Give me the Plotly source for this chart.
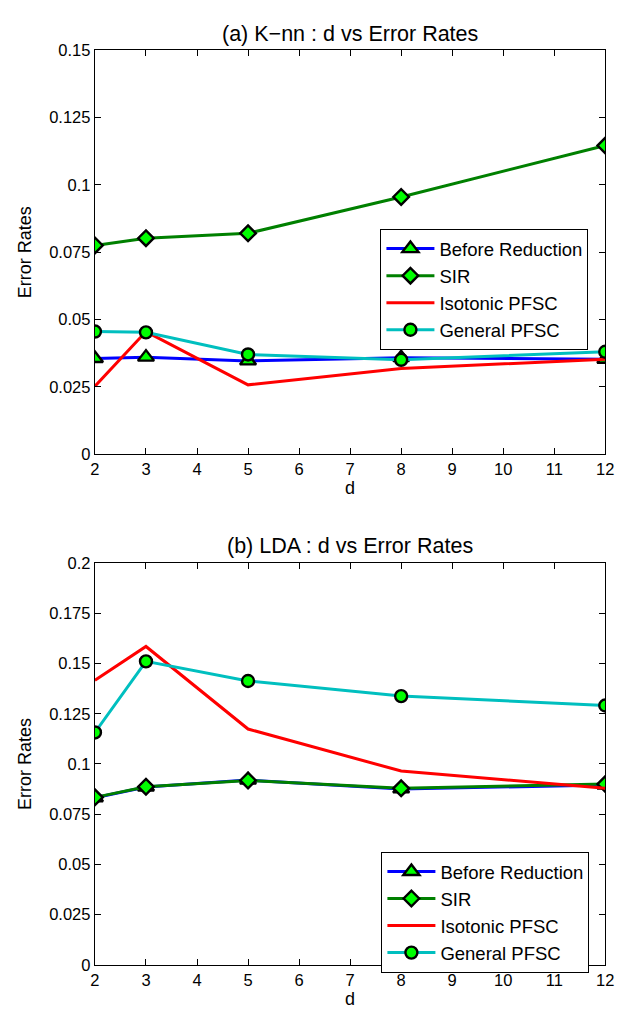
import plotly.graph_objects as go

d_values = [2, 3, 5, 8, 12]

knn_before = [0.0355, 0.0360, 0.0346, 0.0358, 0.0352]
knn_sir = [0.0775, 0.0802, 0.0820, 0.0955, 0.1146]
knn_isotonic = [0.0252, 0.0455, 0.0257, 0.0318, 0.0352]
knn_general = [0.0455, 0.0452, 0.0370, 0.0350, 0.0380]

lda_before = [0.0832, 0.0885, 0.0920, 0.0876, 0.0895]
lda_sir = [0.0834, 0.0887, 0.0918, 0.0879, 0.0900]
lda_isotonic = [0.1417, 0.1585, 0.1174, 0.0965, 0.0879]
lda_general = [0.1157, 0.1511, 0.1413, 0.1338, 0.1291]

series_names = ["Before Reduction", "SIR", "Isotonic PFSC", "General PFSC"]
line_colors = ["#0000ff", "#008000", "#ff0000", "#00bfbf"]
marker_symbols = ["triangle-up", "diamond", None, "circle"]
marker_sizes = [14, 12, 0, 12]

knn_ticks = [0, 0.025, 0.05, 0.075, 0.1, 0.125, 0.15]
knn_ticktext = ["0", "0.025", "0.05", "0.075", "0.1", "0.125", "0.15"]
lda_ticks = [0, 0.025, 0.05, 0.075, 0.1, 0.125, 0.15, 0.175, 0.2]
lda_ticktext = ["0", "0.025", "0.05", "0.075", "0.1", "0.125", "0.15", "0.175", "0.2"]
x_ticks = list(range(2, 13))

FONT = "Liberation Sans, Arial, sans-serif"
W, H = 627, 1024

fig = go.Figure()

def add_series(data, xa, ya, legend):
    for name, vals, col, sym, ms in zip(series_names, data, line_colors, marker_symbols, marker_sizes):
        if sym is None:
            fig.add_trace(go.Scatter(x=d_values, y=vals, name=name, mode="lines",
                                     line=dict(color=col, width=3),
                                     xaxis=xa, yaxis=ya, legend=legend))
        else:
            fig.add_trace(go.Scatter(x=d_values, y=vals, name=name, mode="lines+markers",
                                     line=dict(color=col, width=3),
                                     marker=dict(symbol=sym, size=ms, color="#00ff00",
                                                 line=dict(color="black", width=2.4)),
                                     xaxis=xa, yaxis=ya, legend=legend))

add_series([knn_before, knn_sir, knn_isotonic, knn_general], "x", "y", "legend")
add_series([lda_before, lda_sir, lda_isotonic, lda_general], "x2", "y2", "legend2")

xdom = [92 / W, 614 / W]
top_dom = [1 - 453 / H, 1 - 42 / H]
bot_dom = [1 - 973 / H, 1 - 564 / H]

axis_common = dict(showline=True, linecolor="black", linewidth=1.3, mirror="ticks",
                   ticks="inside", ticklen=6, tickcolor="black", showgrid=False, zeroline=False,
                   tickfont=dict(family=FONT, size=16.5, color="black"))
xtitle = dict(text="d", standoff=4, font=dict(family=FONT, size=18))
ytitle = dict(text="Error Rates", standoff=12, font=dict(family=FONT, size=18))

legend_common = dict(xanchor="left", yanchor="top", bgcolor="white", bordercolor="black",
                     borderwidth=1, font=dict(family=FONT, size=18.5, color="black"),
                     tracegroupgap=0, itemwidth=48)

fig.update_layout(
    width=W, height=H,
    margin=dict(l=0, r=0, t=0, b=0),
    paper_bgcolor="white", plot_bgcolor="white",
    font=dict(family=FONT, size=16.5, color="black"),
    xaxis=dict(domain=xdom, anchor="y", range=[2, 12], tickvals=x_ticks, title=xtitle, **axis_common),
    yaxis=dict(domain=top_dom, anchor="x", range=[0, 0.15], tickvals=knn_ticks, ticktext=knn_ticktext,
               title=ytitle, **axis_common),
    xaxis2=dict(domain=xdom, anchor="y2", range=[2, 12], tickvals=x_ticks, title=xtitle, **axis_common),
    yaxis2=dict(domain=bot_dom, anchor="x2", range=[0, 0.2], tickvals=lda_ticks, ticktext=lda_ticktext,
                title=ytitle, **axis_common),
    legend=dict(x=384 / W, y=1 - 224 / H, **legend_common),
    legend2=dict(x=385 / W, y=1 - 858 / H, **legend_common),
    annotations=[
        dict(text="(a) K\u2212nn : d vs Error Rates", x=353 / W, y=1 - 25 / H,
             xref="paper", yref="paper", xanchor="center", yanchor="middle",
             showarrow=False, font=dict(family=FONT, size=21.5)),
        dict(text="(b) LDA : d vs Error Rates", x=353 / W, y=1 - 547 / H,
             xref="paper", yref="paper", xanchor="center", yanchor="middle",
             showarrow=False, font=dict(family=FONT, size=21.5)),
    ],
)

fig.write_html("out.html")
